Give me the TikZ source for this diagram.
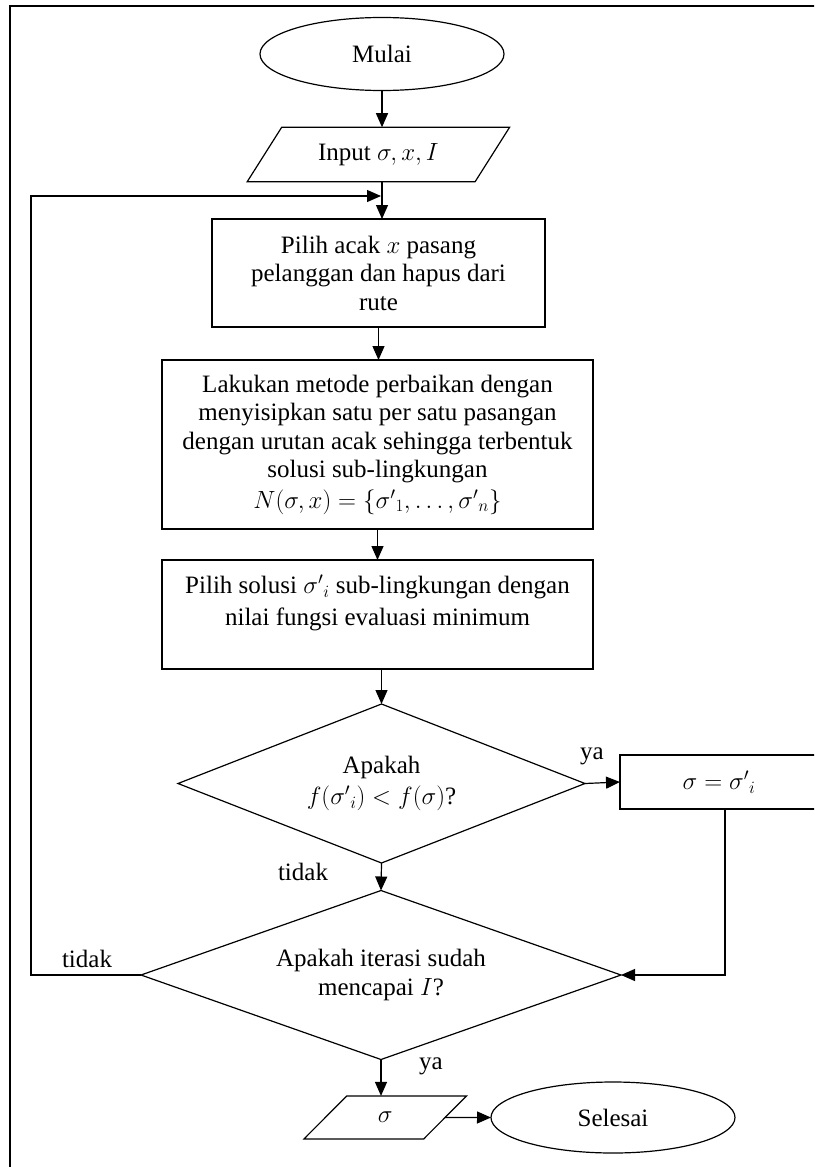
\documentclass[tikz,border=0pt]{standalone}
\usepackage{fontspec}
\setmainfont{Liberation Serif}
\usetikzlibrary{shapes.geometric,arrows.meta,calc}
\begin{document}
\begin{tikzpicture}[x=1pt,y=-1pt,
  font=\fontsize{25}{28.5}\selectfont,
  every node/.style={inner sep=0pt, outer sep=0pt},
  ln/.style={line width=1.2pt},
  arr/.style={ln,-{Triangle[length=14pt,width=12pt]}},
  termnode/.style={ellipse, draw, ln, minimum width=244pt, minimum height=73pt},
  procbox/.style={rectangle, draw, ln, align=center},
  decnode/.style={diamond, draw, ln, align=center, aspect=2.6},
  iobox/.style={trapezium, draw, ln, trapezium stretches=true},
  lbl/.style={}
]
\useasboundingbox (0,0) rectangle (814,1167);
\fill[white] (0,0) rectangle (814,1167);
\clip (0,0) rectangle (814,1167);

% frame
\draw[line width=1.8pt] (10,1180) -- (10,6) -- (830,6);

% nodes
\node[termnode] (start) at (382,54) {Mulai};
\node[iobox, trapezium left angle=46, trapezium right angle=134,
      minimum width=263pt, minimum height=54.5pt] (in) at (378.4,154.5) {Input $\sigma, x, I$};
\node[procbox, minimum width=333pt, minimum height=108pt] (b1) at (378.5,273)
  {Pilih acak $x$ pasang\\pelanggan dan hapus dari\\rute};
\node[procbox, minimum width=431pt, minimum height=169pt] (b2) at (377.5,444.5)
  {Lakukan metode perbaikan dengan\\menyisipkan satu per satu pasangan\\dengan urutan acak sehingga terbentuk\\solusi sub-lingkungan\\[2pt]$N(\sigma, x) = \{\sigma'{}_1, \dots, \sigma'{}_n\}$};
\node[procbox, minimum width=431pt, minimum height=109pt] (b3) at (377.5,614.5) {};
\node[align=center] (b3t) at (377.5,603)
  {Pilih solusi $\sigma'{}_i$ sub-lingkungan dengan\\[4pt]nilai fungsi evaluasi minimum};
\node[decnode, minimum width=407pt, minimum height=159pt] (d1) at (381.5,783.5)
  {Apakah\\[2pt]$f(\sigma'{}_i) < f(\sigma)$?};
\node[procbox, minimum width=198pt, minimum height=54pt] (eq) at (719,782)
  {$\sigma = \sigma'{}_i$};
\node[decnode, minimum width=480pt, minimum height=169pt] (d2) at (381,975)
  {Apakah iterasi sudah\\mencapai $I$?};
\node[iobox, trapezium left angle=52.5, trapezium right angle=127.5,
      minimum width=163pt, minimum height=43pt] (out) at (385.3,1117.4) {$\sigma$};
\node[termnode, minimum height=71pt] (end) at (613,1117.5) {Selesai};

% labels
\node[lbl] (ya1) at (592,756) {ya};
\node[lbl] (tidak1) at (303,872) {tidak};
\node[lbl] (tidak2) at (87,959) {tidak};
\node[lbl] (ya2) at (431,1066) {ya};

% connectors
\coordinate (loopend) at (381,196);
\draw[arr] (start.south) -- (start.south |- in.north);
\draw[arr] (start.south |- in.south) -- (start.south |- b1.north);
\draw[arr] (d2.west) -- ++(-110pt,0) |- (loopend);
\draw[arr] (b1.south) -- (b1.south |- b2.north);
\draw[arr] (b2.south) -- (b2.south |- b3.north);
\draw[arr] (d1.north |- b3.south) -- (d1.north);
\draw[arr] (d1.east) -- (eq.west);
\draw[arr] ($(eq.south)+(6pt,0)$) |- (d2.east);
\draw[arr] (d1.south) -- (d2.north);
\draw[arr] (d2.south) -- (d2.south |- out.north);
\draw[arr] (out.east) -- (end.west);
\end{tikzpicture}
\end{document}
